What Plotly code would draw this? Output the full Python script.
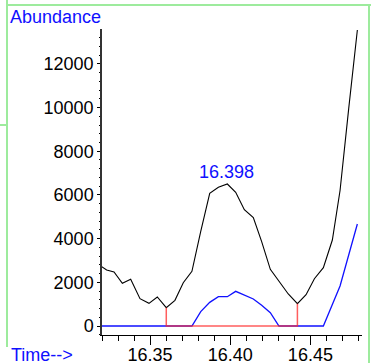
import plotly.graph_objects as go

# Total ion chromatogram (black)
tic_time = [16.3198, 16.3229, 16.3275, 16.3327, 16.3379, 16.3437, 16.3493, 16.3545,
            16.3601, 16.3655, 16.3707, 16.3761, 16.3816, 16.3872, 16.3926, 16.3982,
            16.4034, 16.4088, 16.4144, 16.4196, 16.4250, 16.4304, 16.4362, 16.4419,
            16.4473, 16.4525, 16.4581, 16.4637, 16.4685, 16.4739, 16.4793]
tic_abund = [2716, 2563, 2472, 1953, 2136, 1251, 1038, 1327,
             839, 1175, 1983, 2502, 4333, 6072, 6347, 6499,
             6118, 5324, 4958, 3860, 2594, 2045, 1465, 1022,
             1434, 2166, 2670, 3936, 6200, 9950, 13550]

# Extracted ion trace (blue)
ion_time = [16.3198, 16.3761, 16.3816, 16.3872, 16.3926, 16.3982, 16.4034, 16.4088,
            16.4144, 16.4196, 16.4250, 16.4304, 16.4581, 16.4685, 16.4793]
ion_abund = [0, 0, 656, 1083, 1342, 1342, 1587, 1404,
             1236, 946, 610, 0, 0, 1831, 4669]

# Integration baseline (red)
base_time = [16.3601, 16.3601, 16.4419, 16.4419]
base_abund = [839, 0, 0, 1022]

peak_label = "16.398"
peak_time = 16.3978
x_ticks = [16.35, 16.40, 16.45]
x_tick_text = ["16.35", "16.40", "16.45"]
y_ticks = [0, 2000, 4000, 6000, 8000, 10000, 12000]
y_tick_text = ["0", "2000", "4000", "6000", "8000", "10000", "12000"]

W, H = 371, 363
L, R, T, B = 102, 9, 29, 28
pw, ph = W - L - R, H - T - B

def px(x):
    return (x - L) / pw

def py(y):
    return (H - B - y) / ph

FONT = "Liberation Sans, Arial, sans-serif"
GREEN = "#9DEB9D"

fig = go.Figure()
fig.add_trace(go.Scatter(x=tic_time, y=tic_abund, mode="lines",
                         line=dict(color="black", width=1.1), hoverinfo="skip"))
fig.add_trace(go.Scatter(x=ion_time, y=ion_abund, mode="lines",
                         line=dict(color="#1010FF", width=1.3), hoverinfo="skip"))
fig.add_trace(go.Scatter(x=base_time, y=base_abund, mode="lines",
                         line=dict(color="rgba(255,40,40,0.75)", width=1.5), hoverinfo="skip"))

fig.add_annotation(x=peak_time, y=7062, xref="x", yref="y", text=peak_label,
                   showarrow=False, xanchor="center", yanchor="middle",
                   font=dict(family=FONT, size=18, color="#1010FF"))
fig.add_annotation(x=px(8), y=py(17.5), xref="paper", yref="paper", text="Abundance",
                   showarrow=False, xanchor="left", yanchor="middle",
                   font=dict(family=FONT, size=18, color="#1010FF"))
fig.add_annotation(x=px(9), y=py(355), xref="paper", yref="paper", text="Time-->",
                   showarrow=False, xanchor="left", yanchor="middle",
                   font=dict(family=FONT, size=18, color="#1010FF"))

line = dict(color=GREEN, width=2)
for x0, y0, x1, y1 in [(7, 5, 371, 5), (7, 0, 7, 347), (369, 5, 369, 363), (0, 125, 7, 125)]:
    fig.add_shape(type="line", xref="paper", yref="paper",
                  x0=px(x0), y0=py(y0), x1=px(x1), y1=py(y1), line=line)

fig.update_layout(
    width=W, height=H, margin=dict(l=L, r=R, t=T, b=B, autoexpand=False),
    paper_bgcolor="white", plot_bgcolor="white", showlegend=False,
    font=dict(family=FONT, size=18, color="black"),
)
fig.update_xaxes(range=[16.32, 16.32 + pw / 1603], tickvals=x_ticks, ticktext=x_tick_text,
                 ticks="outside", ticklen=9, tickwidth=1, tickcolor="black",
                 showline=True, linecolor="black", linewidth=1, showgrid=False, zeroline=False,
                 minor=dict(dtick=0.01, tick0=16.32, ticks="outside", ticklen=5, tickcolor="black", showgrid=False),
                 ticklabelstandoff=-6,
                 tickfont=dict(family=FONT, size=18, color="black"), fixedrange=True, automargin=False)
fig.update_yaxes(range=[-412, 13594], tickvals=y_ticks, ticktext=y_tick_text,
                 ticks="outside", ticklen=3, tickwidth=1, tickcolor="black",
                 showline=True, linecolor="#333333", linewidth=1.5, showgrid=False, zeroline=False,
                 minor=dict(dtick=400, tick0=0, ticks="outside", ticklen=1.5, tickcolor="black", showgrid=False),
                 tickfont=dict(family=FONT, size=18, color="black"), fixedrange=True, automargin=False)

fig.write_html("out.html", config={"displayModeBar": False},
               post_script="document.body.style.margin='0';document.body.style.overflow='hidden';")
